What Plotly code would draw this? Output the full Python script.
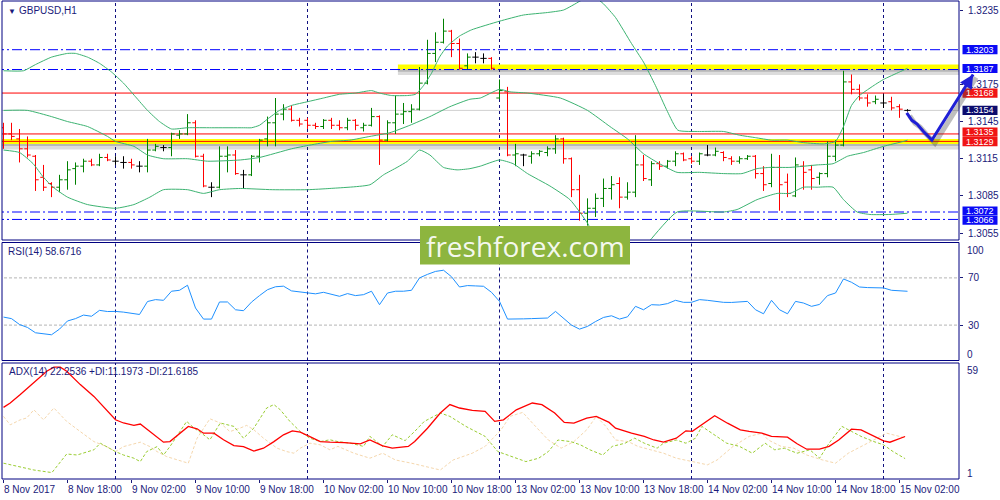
import plotly.graph_objects as go

# ---------------- data ----------------
symbol_title = "GBPUSD,H1"
rsi_title = "RSI(14) 58.6716"
adx_title = "ADX(14) 22.2536 +DI:11.1973 -DI:21.6185"

time_label_idx = [0, 8, 16, 24, 32, 40, 48, 56, 64, 72, 80, 88, 96, 104, 112]
time_labels = ["8 Nov 2017", "8 Nov 18:00", "9 Nov 02:00", "9 Nov 10:00", "9 Nov 18:00",
               "10 Nov 02:00", "10 Nov 10:00", "10 Nov 18:00", "13 Nov 02:00", "13 Nov 10:00",
               "13 Nov 18:00", "14 Nov 02:00", "14 Nov 10:00", "14 Nov 18:00", "15 Nov 02:00"]
day_start_idx = [14, 38, 62, 86, 110]

opens = [1.3140, 1.3135, 1.3131, 1.3123, 1.3117, 1.3100, 1.3095, 1.3092, 1.3098, 1.3107,
         1.3109, 1.3113, 1.3110, 1.3116, 1.3113, 1.3112, 1.3112, 1.3109, 1.3109, 1.3122,
         1.3124, 1.3124, 1.3134, 1.3135, 1.3144, 1.3117, 1.3092, 1.3092, 1.3117, 1.3118,
         1.3102, 1.3102, 1.3117, 1.3131, 1.3144, 1.3151, 1.3155, 1.3146, 1.3146, 1.3142,
         1.3141, 1.3146, 1.3142, 1.3140, 1.3146, 1.3140, 1.3142, 1.3149, 1.3130, 1.3144,
         1.3151, 1.3153, 1.3155, 1.3176, 1.3200, 1.3209, 1.3218, 1.3208, 1.3190, 1.3197,
         1.3196, 1.3196, 1.3164, 1.3169, 1.3118, 1.3118, 1.3117, 1.3119, 1.3120, 1.3123,
         1.3131, 1.3115, 1.3090, 1.3071, 1.3075, 1.3083, 1.3091, 1.3095, 1.3084, 1.3088,
         1.3110, 1.3098, 1.3111, 1.3109, 1.3113, 1.3119, 1.3115, 1.3113, 1.3118, 1.3118,
         1.3120, 1.3115, 1.3113, 1.3115, 1.3117, 1.3103, 1.3095, 1.3108, 1.3096, 1.3085,
         1.3109, 1.3106, 1.3100, 1.3103, 1.3117, 1.3126, 1.3177, 1.3171, 1.3164, 1.3161,
         1.3160, 1.3161, 1.3157, 1.3154]
highs = [1.3144, 1.3144, 1.3139, 1.3133, 1.3118, 1.3110, 1.3096, 1.3102, 1.3113, 1.3112,
         1.3115, 1.3115, 1.3119, 1.3119, 1.3117, 1.3117, 1.3115, 1.3113, 1.3131, 1.3127,
         1.3126, 1.3136, 1.3138, 1.3151, 1.3146, 1.3119, 1.3096, 1.3125, 1.3125, 1.3122,
         1.3106, 1.3118, 1.3131, 1.3149, 1.3164, 1.3159, 1.3158, 1.3148, 1.3148, 1.3144,
         1.3147, 1.3148, 1.3146, 1.3148, 1.3147, 1.3144, 1.3156, 1.3150, 1.3146, 1.3166,
         1.3160, 1.3159, 1.3189, 1.3211, 1.3217, 1.3228, 1.3219, 1.3212, 1.3200, 1.3201,
         1.3200, 1.3197, 1.3179, 1.3173, 1.3127, 1.3119, 1.3121, 1.3122, 1.3125, 1.3134,
         1.3132, 1.3116, 1.3102, 1.3083, 1.3087, 1.3099, 1.3101, 1.3100, 1.3096, 1.3134,
         1.3118, 1.3113, 1.3113, 1.3114, 1.3121, 1.3120, 1.3117, 1.3120, 1.3126, 1.3124,
         1.3121, 1.3117, 1.3117, 1.3118, 1.3118, 1.3109, 1.3119, 1.3118, 1.3103, 1.3116,
         1.3113, 1.3110, 1.3104, 1.3129, 1.3130, 1.3186, 1.3183, 1.3175, 1.3167, 1.3166,
         1.3167, 1.3165, 1.3159, 1.3155]
lows = [1.3123, 1.3130, 1.3112, 1.3116, 1.3089, 1.3089, 1.3084, 1.3088, 1.3090, 1.3094,
        1.3104, 1.3109, 1.3109, 1.3113, 1.3110, 1.3107, 1.3107, 1.3104, 1.3104, 1.3121,
        1.3121, 1.3117, 1.3131, 1.3134, 1.3116, 1.3092, 1.3084, 1.3091, 1.3104, 1.3102,
        1.3091, 1.3101, 1.3112, 1.3125, 1.3125, 1.3146, 1.3145, 1.3141, 1.3139, 1.3139,
        1.3139, 1.3139, 1.3138, 1.3138, 1.3138, 1.3137, 1.3141, 1.3110, 1.3129, 1.3135,
        1.3143, 1.3144, 1.3154, 1.3175, 1.3193, 1.3208, 1.3197, 1.3187, 1.3187, 1.3192,
        1.3192, 1.3187, 1.3163, 1.3117, 1.3109, 1.3109, 1.3111, 1.3117, 1.3117, 1.3119,
        1.3111, 1.3084, 1.3065, 1.3061, 1.3068, 1.3076, 1.3082, 1.3075, 1.3082, 1.3084,
        1.3097, 1.3093, 1.3106, 1.3107, 1.3109, 1.3113, 1.3111, 1.3110, 1.3117, 1.3117,
        1.3113, 1.3110, 1.3111, 1.3114, 1.3099, 1.3089, 1.3092, 1.3073, 1.3084, 1.3084,
        1.3090, 1.3090, 1.3094, 1.3100, 1.3113, 1.3125, 1.3167, 1.3162, 1.3157, 1.3159,
        1.3156, 1.3154, 1.3148, 1.3153]
closes = [1.3135, 1.3133, 1.3123, 1.3118, 1.3098, 1.3092, 1.3092, 1.3098, 1.3106, 1.3109,
          1.3113, 1.3110, 1.3116, 1.3114, 1.3113, 1.3112, 1.3110, 1.3109, 1.3122, 1.3125,
          1.3124, 1.3135, 1.3135, 1.3144, 1.3117, 1.3093, 1.3092, 1.3117, 1.3118, 1.3103,
          1.3102, 1.3117, 1.3130, 1.3144, 1.3151, 1.3155, 1.3146, 1.3143, 1.3142, 1.3141,
          1.3146, 1.3142, 1.3140, 1.3146, 1.3142, 1.3142, 1.3149, 1.3130, 1.3144, 1.3151,
          1.3153, 1.3155, 1.3176, 1.3200, 1.3209, 1.3218, 1.3208, 1.3188, 1.3197, 1.3197,
          1.3196, 1.3188, 1.3170, 1.3118, 1.3119, 1.3118, 1.3119, 1.3121, 1.3123, 1.3131,
          1.3115, 1.3090, 1.3071, 1.3075, 1.3083, 1.3091, 1.3094, 1.3084, 1.3088, 1.3110,
          1.3099, 1.3111, 1.3109, 1.3113, 1.3119, 1.3114, 1.3113, 1.3119, 1.3118, 1.3121,
          1.3116, 1.3113, 1.3115, 1.3117, 1.3103, 1.3094, 1.3108, 1.3094, 1.3087, 1.3110,
          1.3104, 1.3099, 1.3103, 1.3117, 1.3126, 1.3177, 1.3171, 1.3164, 1.3160, 1.3163,
          1.3160, 1.3156, 1.3155, 1.3154]

bb_upper_idx = [0, 2.5, 4, 6, 8, 9, 10.5, 12, 13.5, 15, 16.5, 18, 19.5, 21, 23, 26, 30, 31, 32, 33,
                34.5, 36, 38, 40, 42, 44, 46, 47, 48.5, 50.5, 51.5, 52.5, 53.5, 54.5, 55.5, 57, 58.5,
                62, 65, 68, 70, 72, 73, 74, 75, 76.5, 78.5, 80, 81.5, 83, 84.3, 87, 90, 92, 94, 96,
                98, 100, 102.5, 104, 105, 106, 107, 109, 110, 112, 113]
bb_upper = [1.3186, 1.3186, 1.3191, 1.3197, 1.3200, 1.3200, 1.3197, 1.3192, 1.3185, 1.3176,
            1.3165, 1.3154, 1.3145, 1.3139, 1.3140, 1.3140, 1.3140, 1.3140, 1.3142, 1.3147,
            1.3154, 1.3158, 1.3161, 1.3164, 1.3167, 1.3168, 1.3170, 1.3168, 1.3166, 1.3166,
            1.3167, 1.3174, 1.3184, 1.3197, 1.3206, 1.3214, 1.3219, 1.3226, 1.3231, 1.3233,
            1.3235, 1.3242, 1.3246, 1.3245, 1.3240, 1.3229, 1.3208, 1.3193, 1.3174, 1.3153,
            1.3138, 1.3137, 1.3137, 1.3134, 1.3132, 1.3130, 1.3130, 1.3128, 1.3127, 1.3129,
            1.3141, 1.3158, 1.3166, 1.3175, 1.3179, 1.3185, 1.3188]
bb_middle_idx = [0, 3, 6, 8, 10.5, 13, 14, 16.3, 18, 20, 23, 25.5, 29.6, 32, 36, 38.3, 41, 43.3,
                 45.8, 48.3, 50.8, 53.3, 55.8, 58.3, 59.6, 62, 63.3, 65.5, 69.6, 73, 75.8, 78, 80,
                 82, 84.2, 87, 90, 92.3, 94.2, 95.8, 98.3, 101.7, 103.7, 105.5, 107.5, 110, 112.5, 113]
bb_middle = [1.3154, 1.3154, 1.3149, 1.3145, 1.3141, 1.3133, 1.3129, 1.3125, 1.3118, 1.3115,
             1.3115, 1.3113, 1.3114, 1.3116, 1.3123, 1.3126, 1.3129, 1.3130, 1.3133, 1.3136,
             1.3142, 1.3149, 1.3157, 1.3163, 1.3164, 1.3171, 1.3169, 1.3168, 1.3164, 1.3154,
             1.3141, 1.3131, 1.3119, 1.3111, 1.3104, 1.3104, 1.3103, 1.3103, 1.3107, 1.3108,
             1.3108, 1.3110, 1.3111, 1.3117, 1.3120, 1.3125, 1.3129, 1.3130]
bb_lower_idx = [0, 2, 3.7, 5, 6.2, 8, 10.5, 14, 16.3, 18.3, 20, 23, 25, 27, 29.6, 33.6, 38, 40.8,
                45.8, 47.5, 49.2, 50.5, 52, 53.3, 55, 56.7, 58.3, 59.6, 62, 63.7, 65.5, 68.3, 70.8,
                73, 74.6, 77, 79.6, 80.8, 84.2, 90, 91.7, 94.2, 96.7, 98.3, 100, 101.7, 103.7, 105,
                106.7, 108.3, 110.8, 113]
bb_lower = [1.3122, 1.3120, 1.3111, 1.3100, 1.3092, 1.3084, 1.3078, 1.3075, 1.3078, 1.3084,
            1.3090, 1.3090, 1.3087, 1.3090, 1.3091, 1.3090, 1.3090, 1.3091, 1.3094, 1.3102,
            1.3108, 1.3113, 1.3122, 1.3118, 1.3108, 1.3106, 1.3107, 1.3109, 1.3114, 1.3111,
            1.3103, 1.3093, 1.3082, 1.3063, 1.3043, 1.3032, 1.3040, 1.3049, 1.3072, 1.3072,
            1.3074, 1.3082, 1.3087, 1.3087, 1.3092, 1.3092, 1.3092, 1.3082, 1.3072, 1.3070,
            1.3070, 1.3071]

rsi = [36.8, 35.5, 30.5, 28.0, 23.5, 22.5, 21.8, 26.6, 33.5, 35.5,
       38.5, 37.5, 42.5, 41.5, 41.6, 41.0, 40.0, 39.0, 50.0, 51.6,
       51.0, 58.7, 59.5, 63.8, 44.5, 35.1, 35.1, 49.6, 49.6, 43.0,
       42.2, 49.5, 55.0, 60.0, 62.5, 63.0, 59.0, 58.3, 57.5, 56.5,
       57.8, 55.8, 54.4, 56.7, 55.0, 55.8, 58.7, 47.3, 57.2, 58.7,
       58.7, 59.5, 70.0, 73.0, 75.5, 76.5, 71.0, 62.3, 63.5, 63.2,
       62.9, 57.8, 50.1, 35.1, 35.5, 35.3, 35.5, 35.6, 36.0, 41.6,
       36.0, 30.0, 26.6, 28.9, 33.0, 36.5, 37.9, 35.1, 37.0, 45.9,
       43.0, 47.3, 47.0, 48.2, 51.0, 49.3, 49.3, 51.6, 51.0, 50.0,
       49.3, 49.2, 49.9, 50.1, 43.0, 39.6, 51.0, 43.0, 39.6, 50.1,
       48.7, 45.9, 47.5, 55.0, 57.2, 69.1, 66.3, 62.3, 61.8, 61.5,
       61.5, 59.5, 59.0, 58.67]
rsi_levels = [70, 30]

adx_idx = [0, 0.84, 2.1, 3.8, 5.4, 6.3, 7.1, 7.9, 9.6, 11.3, 12.9, 14, 15, 16.3, 17.1, 17.9, 19.2,
           20, 20.8, 22.1, 23.1, 24.2, 25, 26.3, 27.5, 28.8, 30, 31.3, 32.5, 33.8, 35, 36.1, 37.1,
           38.3, 39.6, 40.8, 42.6, 44.6, 45.8, 47.4, 48.6, 50.6, 51.4, 53, 54.6, 55.8, 57, 58.6,
           60.2, 61.4, 62.5, 64.1, 66.1, 67.3, 68.9, 70.1, 71.3, 72.9, 74.1, 75.7, 76.5, 78.5,
           80.1, 81.3, 82.5, 84.1, 85.3, 86.1, 87.3, 88.9, 90.5, 92.1, 93.2, 94.8, 96, 98, 99.2,
           100.4, 102, 103.2, 104.4, 106, 107.2, 108.8, 110, 110.8, 112, 112.7]
adx_val = [36.8, 39.0, 43.2, 49.1, 54.9, 56.9, 56.9, 54.9, 48.2, 42.3, 35.6, 30.6, 29.0, 27.8,
           28.5, 26.1, 22.2, 19.4, 19.7, 23.9, 27.3, 26.1, 23.9, 23.9, 20.6, 17.7, 17.2, 15.0,
           16.4, 19.7, 23.1, 25.1, 24.4, 22.2, 19.7, 19.4, 19.2, 18.6, 20.5, 17.6, 16.4, 17.3,
           19.8, 26.4, 34.0, 38.2, 36.5, 35.3, 34.8, 29.8, 30.6, 35.6, 39.0, 38.2, 34.0, 29.3,
           28.9, 31.4, 32.3, 29.3, 26.4, 23.9, 22.3, 20.5, 19.4, 21.4, 25.1, 24.8, 28.1, 32.6,
           28.9, 25.6, 24.8, 23.9, 22.3, 21.9, 18.6, 15.9, 15.9, 17.3, 20.5, 25.9, 25.6, 22.3,
           20.1, 19.4, 21.4, 22.25]
pdi_idx = [0, 2.1, 3.8, 6.05, 7.1, 7.9, 9.2, 10.4, 11.3, 12.1, 12.9, 14, 15, 16.3, 17.1, 17.9,
           19.2, 20, 20.8, 22.1, 22.9, 23.8, 24.6, 25.8, 27.1, 28.8, 30, 31.3, 32.9, 33.8, 34.6,
           35.8, 37.1, 38.3, 39.6, 40.8, 41.8, 43.4, 45, 45.8, 47.4, 48.6, 50.2, 51.4, 52.6, 54.6,
           55.8, 57.8, 60.2, 61.8, 63.3, 65.3, 66.9, 68.1, 69.3, 70.9, 72.1, 73.3, 74.9, 76.1,
           77.7, 78.9, 80.1, 81.7, 82.5, 84.1, 85.3, 86.5, 87.3, 88.8, 90.4, 92, 93.6, 95.2, 96.4,
           97.6, 99.2, 100.8, 102, 103.2, 104.8, 106, 107.2, 108.8, 110, 111.2, 112.7]
pdi_val = [8.9, 7.2, 5.5, 4.2, 9.7, 13.5, 13.0, 14.4, 15.6, 18.9, 17.2, 14.7, 13.0, 11.4, 9.7,
           14.7, 17.2, 13.0, 17.2, 24.7, 29.8, 26.5, 24.4, 20.6, 29.0, 27.3, 21.4, 26.5, 36.5,
           38.2, 35.6, 29.8, 24.7, 21.4, 19.7, 20.6, 19.7, 18.9, 17.3, 22.3, 17.3, 23.1, 20.2,
           24.8, 29.8, 34.0, 32.3, 27.3, 22.3, 14.7, 12.5, 9.7, 11.4, 14.7, 20.5, 19.7, 18.1,
           15.6, 13.0, 17.3, 18.9, 21.4, 18.9, 16.4, 18.9, 20.5, 18.9, 21.4, 27.3, 23.1, 18.9,
           17.3, 13.9, 18.9, 15.6, 16.4, 13.9, 15.6, 11.4, 18.9, 27.3, 24.8, 22.3, 19.7, 18.1,
           14.7, 11.2]
mdi_idx = [0, 0.84, 2.1, 2.9, 3.8, 5, 6.3, 6.9, 7.9, 9.6, 11.3, 12.9, 14, 15, 16.3, 17.1, 18.3,
           19.2, 20.4, 21.7, 23.1, 24.2, 25, 25.8, 27.1, 28.3, 29.6, 30.4, 31.3, 32.5, 34.2, 35.4,
           36.3, 37.1, 38.3, 39.6, 40.8, 41.8, 43.8, 45.8, 47.4, 49, 51, 53, 54.6, 56.2, 58.6,
           60.2, 62.2, 63.3, 64.9, 66.5, 68.1, 69.7, 71.3, 72.9, 74.1, 75.3, 76.5, 78.1, 79.3,
           80.9, 82.5, 84.1, 86.1, 88, 89.2, 91.2, 93.2, 94.8, 95.6, 97.2, 98.8, 100.4, 102.4,
           104, 105.6, 107.2, 108.8, 110.4, 112, 112.7]
mdi_val = [32.3, 28.1, 30.6, 31.5, 35.6, 30.6, 36.5, 34.0, 29.8, 24.7, 19.7, 17.2, 14.7, 17.2,
           18.4, 19.4, 17.2, 14.7, 12.2, 10.5, 8.9, 21.4, 26.5, 31.1, 29.0, 24.7, 26.5, 27.8,
           25.6, 21.4, 16.4, 14.7, 13.9, 16.4, 18.9, 18.1, 15.6, 17.3, 13.9, 11.4, 13.9, 10.5,
           8.9, 7.2, 5.5, 10.5, 13.9, 17.3, 25.6, 32.3, 34.3, 27.3, 20.5, 16.4, 19.7, 25.6, 32.3,
           27.3, 20.5, 19.7, 17.3, 15.6, 13.9, 11.4, 9.7, 8.1, 10.5, 17.3, 22.3, 23.9, 20.5, 17.3,
           16.4, 13.0, 10.5, 8.9, 13.9, 17.3, 20.5, 23.9, 22.3, 21.6]

price_ticks = [1.3235, 1.3175, 1.3145, 1.3115, 1.3085, 1.3055]
blue_levels = [1.3203, 1.3187, 1.3072, 1.3066]
red_levels = [1.3168, 1.3135, 1.3129]
bid_price = 1.3154
support_level = 1.3129
resistance_level = 1.3189
resistance_start_idx = 49.3
price_tags = [1.3203, 1.3187, 1.3168, 1.3154, 1.3135, 1.3129, 1.3072, 1.3066]
price_tag_colors = ["#0a0af5", "#0a0af5", "#f01414", "#0c0c6e", "#f01414", "#f01414", "#0a0af5", "#0a0af5"]
# vertical nudge (px) the terminal applies to stacked tags so they do not cover each other
price_tag_nudge_px = [0, -1, 0, 0, -1.8, 0.2, -1.0, 0.8]
# hand-drawn forecast arrow (bar index, price)
arrow_idx = [112.9, 113.55, 114.2, 115.0, 116.05, 121.2]
arrow_price = [1.3152, 1.3146, 1.3143, 1.3137, 1.3130, 1.3183]
watermark = "freshforex.com"

# ---------------- geometry ----------------
W, H = 1000, 500
PL, PR, PT, PB = 2, 959, 1, 479


def fx(px):
    return (px - PL) / (PR - PL)


def fy(py):
    return (PB - py) / (PB - PT)


main_dom = [fy(240), fy(1)]
rsi_dom = [fy(360.5), fy(242.5)]
adx_dom = [fy(479), fy(363)]
x_range = [-0.1875, 119.4375]
main_range = [1.30494, 1.32423]
rsi_range = [0, 100]
adx_range = [1, 59]


def main_fy(p):
    return main_dom[0] + (p - main_range[0]) / (main_range[1] - main_range[0]) * (main_dom[1] - main_dom[0])


def data_fx(i):
    return (i - x_range[0]) / (x_range[1] - x_range[0])


px_per_price = (240 - 1) / (main_range[1] - main_range[0])

NAVY = "#1a1a7a"
FONT = "Liberation Sans"

fig = go.Figure()

# Bollinger bands
band_color = "#3cb371"
for bx, by in [(bb_upper_idx, bb_upper), (bb_middle_idx, bb_middle), (bb_lower_idx, bb_lower)]:
    fig.add_trace(go.Scatter(x=bx, y=by, mode="lines", xaxis="x", yaxis="y",
                             line=dict(color=band_color, width=1, shape="spline", smoothing=0.5),
                             hoverinfo="skip"))

# OHLC bars split by direction
idx = list(range(len(opens)))
groups = {
    "up": ([i for i in idx if closes[i] > opens[i]], "#008000"),
    "down": ([i for i in idx if closes[i] < opens[i]], "#ff0000"),
    "doji": ([i for i in idx if closes[i] == opens[i]], "#000000"),
}
for name, (sel, col) in groups.items():
    fig.add_trace(go.Ohlc(
        x=sel, open=[opens[i] for i in sel], high=[highs[i] for i in sel],
        low=[lows[i] for i in sel], close=[closes[i] for i in sel],
        increasing=dict(line=dict(color=col, width=1)),
        decreasing=dict(line=dict(color=col, width=1)),
        tickwidth=0.4, xaxis="x", yaxis="y", hoverinfo="skip", name=name))

# RSI
fig.add_trace(go.Scatter(x=idx, y=rsi, mode="lines", xaxis="x", yaxis="y2",
                         line=dict(color="#1e90ff", width=1), hoverinfo="skip"))

# ADX / DI
fig.add_trace(go.Scatter(x=mdi_idx, y=mdi_val, mode="lines", xaxis="x", yaxis="y3",
                         line=dict(color="#f5d7ad", width=1, dash="3px,2px"), hoverinfo="skip"))
fig.add_trace(go.Scatter(x=pdi_idx, y=pdi_val, mode="lines", xaxis="x", yaxis="y3",
                         line=dict(color="#9acd32", width=1, dash="3px,2px"), hoverinfo="skip"))
fig.add_trace(go.Scatter(x=adx_idx, y=adx_val, mode="lines", xaxis="x", yaxis="y3",
                         line=dict(color="#ff0000", width=1.3), hoverinfo="skip"))

shapes = []
XL, XR = x_range[0] - 1, x_range[1] + 1

# vertical day separators in each panel
for (yr, rng) in [("y", main_range), ("y2", rsi_range), ("y3", adx_range)]:
    for d in day_start_idx:
        shapes.append(dict(type="line", xref="x", yref=yr, x0=d, x1=d, y0=rng[0], y1=rng[1],
                           line=dict(color="#101080", width=1, dash="3px,3px"), layer="below"))

# RSI levels
for lv in rsi_levels:
    shapes.append(dict(type="line", xref="x", yref="y2", x0=XL, x1=XR, y0=lv, y1=lv,
                       line=dict(color="#b4b4b4", width=1, dash="3px,2px"), layer="below"))

# bid line
shapes.append(dict(type="line", xref="x", yref="y", x0=XL, x1=XR, y0=bid_price, y1=bid_price,
                   line=dict(color="#d0d0d0", width=1), layer="below"))

# yellow support / resistance bands with soft shadow
shadow_off = 4.5 / px_per_price
for lvl, x0 in [(support_level, XL), (resistance_level, resistance_start_idx)]:
    shapes.append(dict(type="line", xref="x", yref="y", x0=x0, x1=XR, y0=lvl - shadow_off, y1=lvl - shadow_off,
                       line=dict(color="rgba(60,60,60,0.18)", width=7), layer="below"))
    shapes.append(dict(type="line", xref="x", yref="y", x0=x0, x1=XR, y0=lvl - shadow_off * 0.6,
                       y1=lvl - shadow_off * 0.6,
                       line=dict(color="rgba(60,60,60,0.22)", width=4), layer="below"))
    shapes.append(dict(type="line", xref="x", yref="y", x0=x0, x1=XR, y0=lvl, y1=lvl,
                       line=dict(color="#ffff00", width=5), layer="below"))

# blue dash-dot levels
for lv in blue_levels:
    shapes.append(dict(type="line", xref="x", yref="y", x0=XL, x1=XR, y0=lv, y1=lv,
                       line=dict(color="#0000ff", width=1, dash="10px,3px,2px,3px"), layer="below"))
# red levels
for lv in red_levels:
    shapes.append(dict(type="line", xref="x", yref="y", x0=XL, x1=XR, y0=lv, y1=lv,
                       line=dict(color="#ff0000", width=1), layer="below"))

# panel borders
for dom in [main_dom, rsi_dom, adx_dom]:
    shapes.append(dict(type="rect", xref="paper", yref="paper", x0=0, x1=1, y0=dom[0], y1=dom[1],
                       line=dict(color="#000080", width=1), fillcolor="rgba(0,0,0,0)", layer="above"))

# price tags on the right scale
annotations = []
half_h = 4.6 / (PB - PT)
for p, col, nudge in zip(price_tags, price_tag_colors, price_tag_nudge_px):
    yc = main_fy(p) - nudge / (PB - PT)
    shapes.append(dict(type="rect", xref="paper", yref="paper", x0=fx(962.5), x1=fx(997.5),
                       y0=yc - half_h, y1=yc + half_h, fillcolor=col, line=dict(width=0), layer="above"))
    annotations.append(dict(xref="paper", yref="paper", x=fx(980), y=yc, text=f"{p:.4f}",
                            showarrow=False, xanchor="center", yanchor="middle", borderpad=0,
                            font=dict(family=FONT, size=9, color="white")))

# forecast arrow (shadow + stroke)
ax_pts = [data_fx(i) for i in arrow_idx]
ay_pts = [main_fy(p) for p in arrow_price]


def path_of(xs, ys, dx=0.0, dy=0.0):
    s = "M %f %f" % (xs[0] + dx, ys[0] + dy)
    for a, b in zip(xs[1:], ys[1:]):
        s += " L %f %f" % (a + dx, b + dy)
    return s


shapes.append(dict(type="path", xref="paper", yref="paper",
                   path=path_of(ax_pts, ay_pts, 3 / (PR - PL), -3 / (PB - PT)),
                   line=dict(color="rgba(70,70,70,0.35)", width=5), layer="above"))
shapes.append(dict(type="path", xref="paper", yref="paper", path=path_of(ax_pts, ay_pts),
                   line=dict(color="#1f1fd6", width=3), layer="above"))
annotations.append(dict(xref="paper", yref="paper", x=ax_pts[-1], y=ay_pts[-1], text="",
                        showarrow=True, arrowhead=2, arrowsize=1.1, arrowwidth=2.5,
                        arrowcolor="#1f1fd6", ax=-8, ay=13, standoff=0))

# watermark
shapes.append(dict(type="rect", xref="paper", yref="paper", x0=fx(420), x1=fx(630), y0=fy(264.5), y1=fy(226),
                   fillcolor="#8db53f", line=dict(width=0), layer="above"))
annotations.append(dict(xref="paper", yref="paper", x=fx(525), y=fy(245.5), text=watermark,
                        showarrow=False, xanchor="center", yanchor="middle",
                        font=dict(family="Open Sans", size=28, color="rgba(255,255,255,0.93)")))

# titles
annotations.append(dict(xref="paper", yref="paper", x=fx(6), y=fy(11), text="▼", showarrow=False,
                        xanchor="left", yanchor="middle", font=dict(family=FONT, size=8, color=NAVY)))
annotations.append(dict(xref="paper", yref="paper", x=fx(17), y=fy(10.5), text=symbol_title, showarrow=False,
                        xanchor="left", yanchor="middle", font=dict(family=FONT, size=10, color=NAVY)))
annotations.append(dict(xref="paper", yref="paper", x=fx(6), y=fy(251.5), text=rsi_title, showarrow=False,
                        xanchor="left", yanchor="middle", font=dict(family=FONT, size=10, color=NAVY)))
annotations.append(dict(xref="paper", yref="paper", x=fx(7), y=fy(371.5), text=adx_title, showarrow=False,
                        xanchor="left", yanchor="middle", font=dict(family=FONT, size=10, color=NAVY)))

# edge labels of the indicator scales
for txt, py in [("100", 250), ("0", 354), ("59", 370), ("1", 473)]:
    annotations.append(dict(xref="paper", yref="paper", x=fx(965), y=fy(py), text=txt, showarrow=False,
                            xanchor="left", yanchor="middle", font=dict(family=FONT, size=10, color=NAVY)))

axis_common = dict(showgrid=False, zeroline=False, showline=False, ticks="outside", ticklen=3,
                   tickcolor=NAVY, tickfont=dict(family=FONT, size=10, color=NAVY))

fig.update_layout(
    width=W, height=H, margin=dict(l=PL, r=W - PR, t=PT, b=H - PB),
    paper_bgcolor="white", plot_bgcolor="white", showlegend=False,
    xaxis=dict(domain=[0, 1], range=x_range, anchor="y3", tickvals=time_label_idx, ticktext=time_labels,
               ticklabelposition="outside right", tickangle=0, ticklabelstandoff=1,
               rangeslider=dict(visible=False), **axis_common),
    yaxis=dict(domain=main_dom, range=main_range, anchor="x", side="right", tickvals=price_ticks,
               ticktext=[f"{t:.4f}" for t in price_ticks], ticklabelstandoff=3, **axis_common),
    yaxis2=dict(domain=rsi_dom, range=rsi_range, anchor="x", side="right", tickvals=rsi_levels,
                ticktext=[str(v) for v in rsi_levels], ticklabelstandoff=3, **axis_common),
    yaxis3=dict(domain=adx_dom, range=adx_range, anchor="x", side="right", tickvals=[],
                **axis_common),
    shapes=shapes, annotations=annotations,
)

fig.write_html("out.html", config={"displayModeBar": False},
               post_script="document.body.style.margin='0';document.body.style.overflow='hidden';")
